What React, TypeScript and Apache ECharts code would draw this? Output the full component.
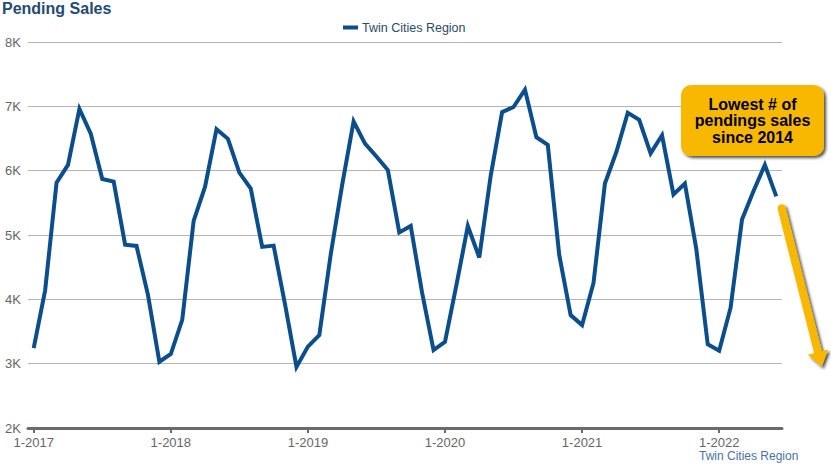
import React, { useEffect, useRef } from "react";
import * as echarts from "echarts";

const seriesName = "Twin Cities Region";
const yearTicks = ["1-2017", "1-2018", "1-2019", "1-2020", "1-2021", "1-2022"];
const sales2017 = [3240, 4140, 5815, 6090, 6960, 6570, 5870, 5830, 4850, 4830, 4070, 3030];
const sales2018 = [3150, 3680, 5220, 5750, 6645, 6495, 5970, 5720, 4815, 4835, 3920, 2950];
const sales2019 = [3265, 3445, 4700, 5780, 6765, 6420, 6220, 6010, 5040, 5140, 4100, 3210];
const sales2020 = [3340, 4220, 5140, 4650, 5920, 6910, 6990, 7260, 6520, 6400, 4690, 3755];
const sales2021 = [3600, 4255, 5800, 6290, 6900, 6790, 6270, 6550, 5630, 5800, 4780, 3300];
const sales2022 = [3200, 3870, 5240, 5680, 6090, 5600];

const FONT = "'Liberation Sans', Arial, Helvetica, sans-serif";

export default function App() {
  const ref = useRef<HTMLDivElement>(null);
  useEffect(() => {
    if (!ref.current) return;
    const chart = echarts.init(ref.current, null, { renderer: "svg" });
    const all = [...sales2017, ...sales2018, ...sales2019, ...sales2020, ...sales2021, ...sales2022];
    const data = all.map((v, i) => [i, v]);
    const tickVals = yearTicks.map((_, i) => i * 12);

    // arrow geometry
    const ax0 = 781.7, ay0 = 208.3, tipX = 821.7, tipY = 366.7;
    const dx = tipX - ax0, dy = tipY - ay0;
    const len = Math.sqrt(dx * dx + dy * dy);
    const ux = dx / len, uy = dy / len;
    const headLen = 15, headHalf = 10.5;
    const bx = tipX - ux * headLen, by = tipY - uy * headLen;
    const px = -uy, py = ux;
    const shadow = { shadowBlur: 3, shadowOffsetX: 2, shadowOffsetY: 2, shadowColor: "rgba(0,0,0,0.7)" };

    chart.setOption({
      animation: false,
      backgroundColor: "#ffffff",
      title: {
        text: "Pending Sales",
        left: 2,
        top: 0,
        padding: 0,
        textStyle: { fontFamily: FONT, fontSize: 16, fontWeight: "bold", color: "#234b73" },
      },
      legend: {
        top: 21,
        left: 343,
        padding: 0,
        icon: "rect",
        itemWidth: 15,
        itemHeight: 4,
        itemGap: 4,
        textStyle: { fontFamily: FONT, fontSize: 12.5, color: "#2c4a6b", padding: [0, 0, 0, -1] },
        data: [seriesName],
      },
      grid: { left: 28, right: 49, top: 42, bottom: 39 },
      xAxis: {
        type: "value",
        min: -0.5,
        max: 65.5,
        splitLine: { show: false },
        axisLine: { show: true, lineStyle: { color: "#6b6b6b", width: 3 } },
        axisTick: { show: true, length: 5, customValues: tickVals, lineStyle: { color: "#6b6b6b", width: 2 } },
        axisLabel: {
          customValues: tickVals,
          margin: 8,
          fontFamily: FONT,
          fontSize: 13,
          color: "#666666",
          formatter: (v: number) => yearTicks[Math.round(v / 12)] ?? "",
        },
      },
      yAxis: {
        type: "value",
        min: 2000,
        max: 8000,
        interval: 1000,
        axisLine: { show: false },
        axisTick: { show: false },
        splitLine: { lineStyle: { color: "#b5b5b5", width: 1 } },
        axisLabel: {
          margin: 7,
          fontFamily: FONT,
          fontSize: 13,
          color: "#666666",
          formatter: (v: number) => v / 1000 + "K",
        },
      },
      series: [
        {
          name: seriesName,
          type: "line",
          data,
          showSymbol: false,
          symbol: "none",
          lineStyle: { color: "#0b4e8b", width: 4, join: "miter" },
          itemStyle: { color: "#0b4e8b" },
        },
      ],
      graphic: [
        {
          type: "text",
          left: 699,
          top: 450,
          style: { text: "Twin Cities Region", font: `12px ${FONT}`, fill: "#4a72a3" },
        },
        {
          type: "rect",
          shape: { x: 681, y: 85, width: 143, height: 71, r: 10 },
          style: { fill: "#f8b800", ...shadow },
          z: 10,
        },
        {
          type: "text",
          x: 752.5,
          y: 120.5,
          z: 11,
          style: {
            text: "Lowest # of\npendings sales\nsince 2014",
            font: `bold 16px ${FONT}`,
            lineHeight: 16.5,
            fill: "#000000",
            align: "center",
            verticalAlign: "middle",
          },
        },
        {
          type: "line",
          z: 10,
          shape: { x1: ax0, y1: ay0, x2: bx + ux * 2, y2: by + uy * 2 },
          style: { stroke: "#f8b800", lineWidth: 8, lineCap: "round", ...shadow },
        },
        {
          type: "polygon",
          z: 10,
          shape: {
            points: [
              [tipX, tipY],
              [bx + px * headHalf, by + py * headHalf],
              [bx - px * headHalf, by - py * headHalf],
            ],
          },
          style: { fill: "#f8b800", ...shadow },
        },
      ],
    });
    return () => chart.dispose();
  }, []);
  return <div ref={ref} style={{ position: "fixed", left: 0, top: 0, width: 831, height: 467 }} />;
}
